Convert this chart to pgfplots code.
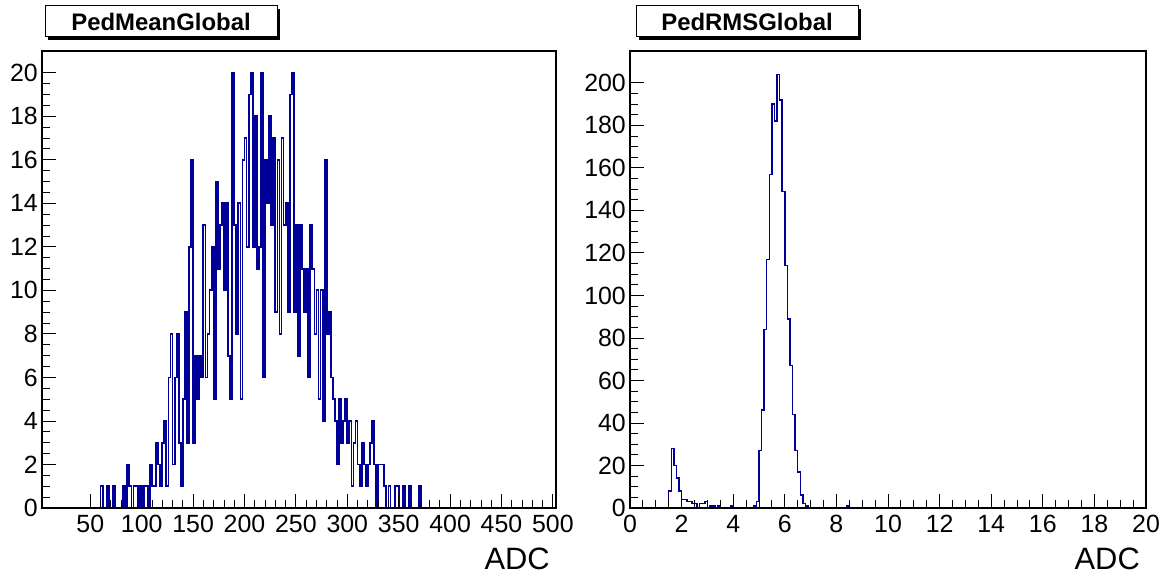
\documentclass[border=0pt]{standalone}
\usepackage{pgfplots}
\pgfplotsset{compat=1.18}
\usepackage{fontspec}
\setmainfont{Liberation Sans}
\definecolor{hblue}{RGB}{0,0,153}

\pgfplotstableread{
x y
56 0
58 0
60 1
62 0
64 0
66 1
68 0
70 0
72 1
74 0
76 0
78 0
80 0
82 1
84 0
86 2
88 1
90 0
92 1
94 1
96 0
98 1
100 0
102 1
104 1
106 0
108 2
110 1
112 1
114 3
116 2
118 1
120 3
122 4
124 1
126 6
128 8
130 2
132 6
134 8
136 3
138 1
140 5
142 9
144 3
146 12
148 16
150 3
152 7
154 5
156 7
158 6
160 13
162 6
164 8
166 10
168 12
170 5
172 15
174 11
176 13
178 14
180 10
182 14
184 7
186 5
188 20
190 13
192 8
194 14
196 5
198 16
200 17
202 12
204 19
206 20
208 12
210 18
212 11
214 12
216 20
218 6
220 16
222 14
224 18
226 13
228 17
230 9
232 16
234 8
236 17
238 13
240 14
242 9
244 19
246 20
248 9
250 13
252 7
254 13
256 11
258 9
260 11
262 6
264 13
266 11
268 8
270 10
272 5
274 10
276 4
278 16
280 8
282 9
284 6
286 5
288 4
290 2
292 5
294 3
296 4
298 5
300 3
302 4
304 1
306 3
308 4
310 2
312 1
314 3
316 2
318 1
320 2
322 3
324 4
326 2
328 0
330 2
332 2
334 2
336 1
338 0
340 1
342 0
344 0
346 1
348 1
350 0
352 0
354 1
356 0
358 0
360 1
362 0
364 0
366 0
368 0
370 1
372 0
374 0
}\pedmean

\pgfplotstableread{
x y
1.4 0
1.5 8
1.6 28
1.7 20
1.8 14
1.9 8
2.0 4
2.1 4
2.2 3
2.3 3
2.4 2
2.5 2
2.6 0
2.7 2
2.8 2
2.9 3
3.0 0
3.1 1
3.2 1
3.3 0
3.4 1
3.5 0
3.6 0
3.7 0
3.8 0
3.9 1
4.0 0
4.1 0
4.2 0
4.3 0
4.4 0
4.5 0
4.6 0
4.7 0
4.8 1
4.9 3
5.0 27
5.1 46
5.2 84
5.3 117
5.4 157
5.5 190
5.6 182
5.7 204
5.8 192
5.9 149
6.0 114
6.1 89
6.2 67
6.3 44
6.4 27
6.5 17
6.6 6
6.7 2
6.8 1
6.9 0
7.0 0
7.5 0
8.0 0
8.3 0
8.4 1
8.5 0
8.6 0
}\pedrms

\begin{document}
\begin{tikzpicture}
\useasboundingbox (0bp,0bp) rectangle (1164bp,574bp);
\pgfplotsset{
  rootaxis/.style={
    scale only axis, axis on top,
    height=457bp,
    tick align=inside,
    xtick pos=lower, ytick pos=left,
    major tick length=14bp, minor tick length=8bp,
    every tick/.style={black, line width=0.9bp},
    axis line style={line width=1.3bp},
    tick label style={font=\fontsize{25}{25}\selectfont},
    /pgf/number format/assume math mode=true,
    yticklabel style={inner sep=1bp, xshift=-3bp},
    xticklabel style={inner sep=1bp, yshift=-6bp},
    scaled ticks=false,
    clip=true,
  }
}
% Left panel
\begin{axis}[rootaxis, at={(42bp,66bp)}, anchor=south west, width=514bp,
  xmin=3, xmax=503, ymin=0, ymax=21,
  xtick={50,100,...,500}, minor x tick num=4,
  ytick={0,2,...,20}, minor y tick num=3]
\addplot[hblue, line width=1.8bp, const plot mark left, mark=none] table[x=x,y=y] {\pedmean};
\end{axis}
% Right panel
\begin{axis}[rootaxis, at={(630bp,66bp)}, anchor=south west, width=516bp,
  xmin=0, xmax=20, ymin=0, ymax=215,
  xtick={0,2,...,20}, minor x tick num=3,
  ytick={0,20,...,200}, minor y tick num=3]
\addplot[hblue, line width=1.5bp, const plot mark left, mark=none] table[x=x,y=y] {\pedrms};
\end{axis}
% x labels
\node[anchor=north east, inner sep=0pt, font=\fontsize{31}{31}\selectfont] at (550bp,26bp) {ADC};
\node[anchor=north east, inner sep=0pt, font=\fontsize{31}{31}\selectfont] at (1140bp,26bp) {ADC};
% Title boxes
\fill[black] (48bp,534bp) rectangle (280bp,565bp);
\filldraw[fill=white, draw=black, line width=1bp] (45bp,537bp) rectangle (277bp,568bp);
\node[font=\bfseries\fontsize{24}{24}\selectfont] at (161bp,552.5bp) {PedMeanGlobal};
\fill[black] (639bp,534bp) rectangle (861bp,565bp);
\filldraw[fill=white, draw=black, line width=1bp] (636bp,537bp) rectangle (858bp,568bp);
\node[font=\bfseries\fontsize{24}{24}\selectfont] at (747bp,552.5bp) {PedRMSGlobal};
\end{tikzpicture}
\end{document}
